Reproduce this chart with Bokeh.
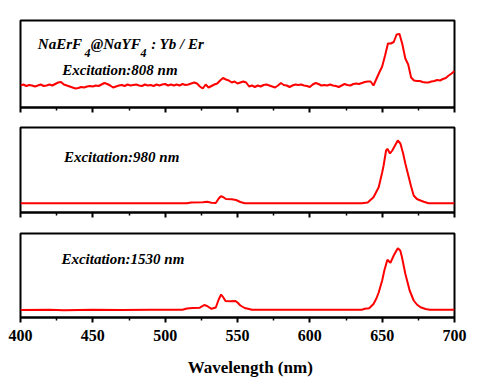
from bokeh.plotting import figure
from bokeh.layouts import column
from bokeh.models import FixedTicker, Label, Range1d
from bokeh.embed import file_html
from bokeh.resources import INLINE

# ---------------- data ----------------
tick_major = [400, 450, 500, 550, 600, 650, 700]
tick_minor = [425, 475, 525, 575, 625, 675]
x_title = "Wavelength (nm)"

# Excitation 808 nm (noisy), sampled every 2 nm from 400 to 700
wl_808 = list(range(400, 701, 2))
int_808 = [
    22, 23, 21.5, 22.5, 22, 21, 22, 23, 21.5, 22,
    23, 22, 23.5, 25, 25.5, 23, 22, 21, 20, 19,
    19.5, 20.5, 20, 21, 21.5, 21, 22, 21.5, 23, 24.5,
    23.5, 22, 20, 21, 22, 22.5, 21.5, 23, 22, 22.5,
    23, 22, 21.5, 23, 22, 22.5, 21.5, 23, 22, 23,
    23.5, 22, 23, 22, 23, 22, 23.5, 22.5, 23, 24,
    25, 24, 21, 19, 23, 20, 21.5, 23, 24, 27,
    29.5, 28, 27, 25, 26, 24, 25, 26, 25, 21,
    22, 20.5, 22, 21, 22.5, 23, 22, 21, 20, 22,
    24.5, 22.5, 22, 20.5, 22, 23, 22.5, 23, 22, 21.5,
    20.5, 23, 24.5, 23.5, 22, 22.5, 22, 23, 22, 21.5,
    20.5, 22, 23.5, 22.5, 22, 23.5, 24, 23.5, 24.5, 25.5,
    26, 26, 22, 28.5, 35, 41, 52, 64, 64, 65.5,
    73, 73.5, 63, 49, 43, 30, 27, 26.5, 26.5, 25.5,
    25, 25, 26, 26.5, 27.5, 27, 28.5, 29.5, 32, 34,
    36.5,
]

# Excitation 980 nm
wl_980 = [400, 515, 518, 526, 529, 532, 535, 537, 538.5, 540,
          542, 546, 549, 552, 555, 636, 640, 644, 647.6, 650,
          651, 652.7, 653.6, 655.4, 657, 658.5, 660.8, 662.6, 664.5, 666,
          668.4, 670, 671.8, 674, 676.5, 678.8, 682, 700]
int_980 = [9.3, 9.3, 10, 10.2, 10.7, 9.7, 9.5, 14, 16.3, 15.5,
           13.5, 13.2, 12.5, 10.5, 9.3, 9.3, 10, 15.3, 25.3, 40,
           47, 62, 63.7, 59, 62, 66, 72, 69, 59, 49,
           35.3, 26, 17, 13.5, 12, 10.7, 9.3, 9.3]

# Excitation 1530 nm
wl_1530 = [400, 420, 430, 450, 470, 490, 512, 515, 519, 524,
           527, 529, 532, 535, 537, 538.7, 540, 541.7, 545, 548.6,
           550, 552, 555, 558, 560, 636, 638, 641, 644, 646,
           647.6, 650, 651.5, 653.6, 655.7, 658, 660.8, 662.5, 663.7, 666,
           669, 671.8, 674, 676.5, 680, 683, 700]
int_1530 = [7.5, 7.7, 7.2, 7.7, 7.4, 7.7, 7.7, 9, 9.5, 9.8,
            12.5, 11.5, 8.7, 10, 18, 23, 20.5, 16.5, 16.3, 16.5,
            15, 12, 9.5, 8.5, 7.7, 7.7, 8.7, 9.2, 13.5, 19,
            25, 37, 47, 57.7, 54.7, 62, 69.3, 67, 60.3, 43.7,
            27, 17, 13, 10.3, 8.5, 7.7, 7.7]

SERIF = "Liberation Serif"
RED = "#ff0000"


def make_panel(xs, ys, ymax, border_top, border_bottom, show_labels):
    p = figure(frame_width=434, frame_height=int(ymax),
               x_range=Range1d(400, 700), y_range=Range1d(0, ymax),
               output_backend="svg", toolbar_location=None,
               min_border_left=20, min_border_right=30,
               min_border_top=border_top, min_border_bottom=border_bottom)
    p.line(xs, ys, line_color=RED, line_width=2)
    p.grid.visible = False
    p.yaxis.visible = False
    p.outline_line_color = "black"
    p.outline_line_width = 2
    p.outline_line_alpha = 1
    p.background_fill_color = "white"
    p.border_fill_color = "white"
    ax = p.xaxis[0]
    ax.ticker = FixedTicker(ticks=tick_major, minor_ticks=tick_minor)
    ax.axis_line_color = "black"
    ax.axis_line_width = 2
    ax.major_tick_in = 0
    ax.major_tick_out = 5
    ax.major_tick_line_width = 2
    ax.minor_tick_in = 0
    ax.minor_tick_out = 3
    ax.minor_tick_line_width = 1.5
    if show_labels:
        ax.major_label_text_font = SERIF
        ax.major_label_text_font_style = "bold"
        ax.major_label_text_font_size = "16px"
        ax.major_label_text_color = "black"
        ax.major_label_standoff = 7
        # leading no-break spaces nudge the centred title to the right
        ax.axis_label = "\u00a0" * 6 + x_title
        ax.axis_label_text_font = SERIF
        ax.axis_label_text_font_style = "bold"
        ax.axis_label_text_font_size = "17px"
        ax.axis_label_text_color = "black"
        ax.axis_label_standoff = 14
    else:
        ax.major_label_text_font_size = "0px"
        ax.major_label_text_color = None
        ax.major_label_standoff = 0
    return p


def add_text(p, x, y, text, size="15px"):
    p.add_layout(Label(x=x, y=y, text=text, text_font=SERIF,
                       text_font_style="bold italic", text_font_size=size,
                       text_color="black", text_align="left",
                       text_baseline="alphabetic"))


p1 = make_panel(wl_808, int_808, 87, 20, 15, False)
p2 = make_panel(wl_980, int_980, 85, 5, 15, False)
p3 = make_panel(wl_1530, int_1530, 84, 6, 58, True)

# title of top panel: NaErF4@NaYF4 : Yb / Er
add_text(p1, 412.0, 63.5, "NaErF")
add_text(p1, 444.2, 55.0, "4", "12px")
add_text(p1, 448.6, 63.5, "@NaYF")
add_text(p1, 482.9, 55.0, "4", "12px")
add_text(p1, 490.3, 63.5, ": Yb / Er")
add_text(p1, 428.8, 37.5, "Excitation:808 nm")
add_text(p2, 430.0, 55.3, "Excitation:980 nm")
add_text(p3, 428.3, 58.7, "Excitation:1530 nm")

layout = column(p1, p2, p3, spacing=0)
open("out.html", "w").write(file_html(layout, INLINE))
